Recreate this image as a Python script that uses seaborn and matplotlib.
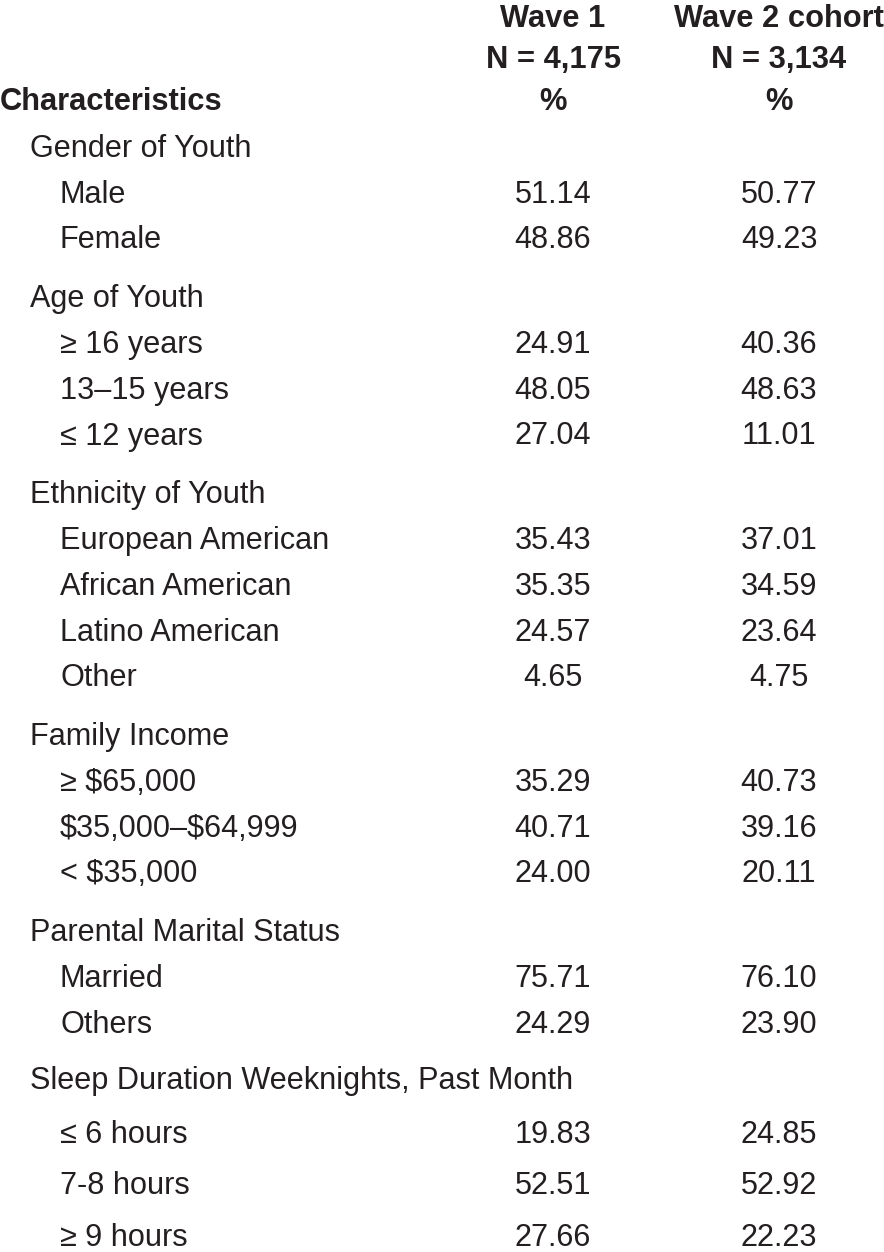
import numpy as np
import pandas as pd
import seaborn as sns
import matplotlib
matplotlib.use('Agg')
import matplotlib.pyplot as plt

# column headers
col_titles = ['Wave 1', 'Wave 2 cohort']
col_ns = ['N = 4,175', 'N = 3,134']

# row groups and their items
groups = ['Gender of Youth', 'Age of Youth', 'Ethnicity of Youth', 'Family Income',
          'Parental Marital Status', 'Sleep Duration Weeknights, Past Month']
items = [
    ['Male', 'Female'],
    ['\u2265 16 years', '13\u201315 years', '\u2264 12 years'],
    ['European American', 'African American', 'Latino American', 'Other'],
    ['\u2265 $65,000', '$35,000\u2013$64,999', '< $35,000'],
    ['Married', 'Others'],
    ['\u2264 6 hours', '7-8 hours', '\u2265 9 hours'],
]
wave1 = [
    [51.14, 48.86],
    [24.91, 48.05, 27.04],
    [35.43, 35.35, 24.57, 4.65],
    [35.29, 40.71, 24.00],
    [75.71, 24.29],
    [19.83, 52.51, 27.66],
]
wave2 = [
    [50.77, 49.23],
    [40.36, 48.63, 11.01],
    [37.01, 34.59, 23.64, 4.75],
    [40.73, 39.16, 20.11],
    [76.10, 23.90],
    [24.85, 52.92, 22.23],
]

sns.set_theme(style='white')
plt.rcParams['font.family'] = ['Liberation Sans', 'DejaVu Sans']

ink = '#231f20'
fs = 22.1
fs_bold = 22.2

fig = plt.figure(figsize=(8.84, 12.52), dpi=100)
ax = fig.add_axes([0, 0, 1, 1])
ax.set_xlim(0, 884)
ax.set_ylim(1252, 0)
ax.axis('off')

col_x = [553, 779]

# header block
for j in range(2):
    ax.text(col_x[j], 27, col_titles[j], ha='center', va='baseline', fontsize=fs_bold,
            fontweight='bold', color=ink)
    ax.text(col_x[j], 68, col_ns[j], ha='center', va='baseline', fontsize=fs_bold,
            fontweight='bold', color=ink)
    ax.text(col_x[j], 110, '%', ha='center', va='baseline', fontsize=fs_bold,
            fontweight='bold', color=ink)
ax.text(0, 110, 'Characteristics', ha='left', va='baseline', fontsize=fs_bold,
        fontweight='bold', color=ink)

# body rows
rows = []
for g, name in enumerate(groups):
    rows.append((name, 'group', None, None, g))
    for k, lab in enumerate(items[g]):
        rows.append((lab, 'item', wave1[g][k], wave2[g][k], g))
df = pd.DataFrame(rows, columns=['label', 'kind', 'w1', 'w2', 'group'])

pitch = [45.7, 45.7, 45.7, 45.7, 45.7, 51.5]
gap = [0, 59, 59, 59, 59, 56]
y = 157
prev = None
for _, r in df.iterrows():
    if prev is not None:
        if r['kind'] == 'group':
            y += gap[r['group']]
        elif prev == 'group' and r['group'] == len(groups) - 1:
            y += 54
        else:
            y += pitch[r['group']]
    prev = r['kind']
    if r['kind'] == 'group':
        ax.text(30, y, r['label'], ha='left', va='baseline', fontsize=fs, color=ink,
                parse_math=False)
    else:
        ax.text(60, y, r['label'], ha='left', va='baseline', fontsize=fs, color=ink,
                parse_math=False)
        ax.text(col_x[0], y, f"{r['w1']:.2f}", ha='center', va='baseline', fontsize=fs, color=ink)
        ax.text(col_x[1], y, f"{r['w2']:.2f}", ha='center', va='baseline', fontsize=fs, color=ink)

fig.savefig('out.png', dpi=100, facecolor='white')
